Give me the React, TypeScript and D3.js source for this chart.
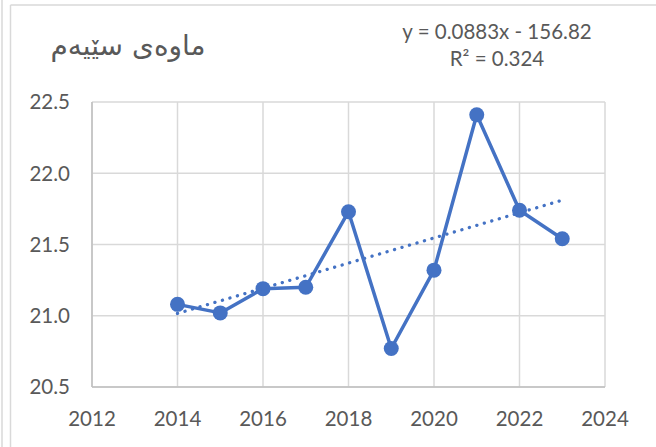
import React from "react";
import * as d3 from "d3";

const years = [2014, 2015, 2016, 2017, 2018, 2019, 2020, 2021, 2022, 2023];
const values = [21.08, 21.02, 21.19, 21.2, 21.73, 20.77, 21.32, 22.41, 21.74, 21.54];
const xTicks = [2012, 2014, 2016, 2018, 2020, 2022, 2024];
const yTicks = [20.5, 21.0, 21.5, 22.0, 22.5];
const slope = 0.0883;
const intercept = -156.82;
const title = "ماوەی سێیەم";
const equation = "y = 0.0883x - 156.82";
const rSquared = "R² = 0.324";

const W = 656;
const H = 447;
const blue = "#4472C4";
const textColor = "#595959";
const font = "Lato, 'DejaVu Sans', sans-serif";

export default function App() {
  const x = d3.scaleLinear().domain([2012, 2024]).range([92, 605]);
  const y = d3.scaleLinear().domain([20.5, 22.5]).range([387, 102]);

  const line = d3
    .line<number>()
    .x((_, i) => x(years[i]))
    .y((d) => y(d));

  const trendYears = [years[0], years[years.length - 1]];
  const trend = d3
    .line<number>()
    .x((d) => x(d))
    .y((d) => y(slope * d + intercept));

  return (
    <svg
      width={W}
      height={H}
      style={{ position: "absolute", left: 0, top: 0, background: "#fff" }}
    >
      {/* chart frame */}
      <line x1={2} y1={0} x2={2} y2={H} stroke="#d9d9d9" strokeWidth={1.5} />
      <line x1={10.5} y1={5} x2={10.5} y2={H} stroke="#d9d9d9" strokeWidth={1.5} />
      <line x1={10.5} y1={5} x2={W} y2={5} stroke="#d9d9d9" strokeWidth={1.5} />

      {/* gridlines */}
      {yTicks.map((t) => (
        <line
          key={"gy" + t}
          x1={x(2012)}
          x2={x(2024)}
          y1={y(t)}
          y2={y(t)}
          stroke="#d9d9d9"
          strokeWidth={1.5}
        />
      ))}
      {xTicks.map((t) => (
        <line
          key={"gx" + t}
          x1={x(t)}
          x2={x(t)}
          y1={y(20.5)}
          y2={y(22.5)}
          stroke="#d9d9d9"
          strokeWidth={1.5}
        />
      ))}
      {/* axes */}
      <line x1={x(2012)} x2={x(2024)} y1={y(20.5)} y2={y(20.5)} stroke="#bfbfbf" strokeWidth={1.5} />
      <line x1={x(2012)} x2={x(2012)} y1={y(20.5)} y2={y(22.5)} stroke="#bfbfbf" strokeWidth={1.5} />

      {/* tick labels */}
      {yTicks.map((t) => (
        <text
          key={"ly" + t}
          x={70}
          y={y(t)}
          dy="0.36em"
          textAnchor="end"
          fontFamily={font}
          fontSize={20.5}
          fill={textColor}
        >
          {d3.format(".1f")(t)}
        </text>
      ))}
      {xTicks.map((t) => (
        <text
          key={"lx" + t}
          x={x(t)}
          y={426}
          textAnchor="middle"
          fontFamily={font}
          fontSize={20.5}
          fill={textColor}
        >
          {t}
        </text>
      ))}

      {/* series */}
      <path d={line(values) ?? ""} fill="none" stroke={blue} strokeWidth={3.5} strokeLinejoin="round" />
      {values.map((v, i) => (
        <circle key={"p" + i} cx={x(years[i])} cy={y(v)} r={7.5} fill={blue} />
      ))}

      {/* trendline */}
      <path
        d={trend(trendYears) ?? ""}
        fill="none"
        stroke={blue}
        strokeWidth={3.3}
        strokeLinecap="round"
        strokeDasharray="0.1 7.7"
      />

      {/* title and equation */}
      <text
        x={128}
        y={55}
        textAnchor="middle"
        fontFamily="'DejaVu Sans', sans-serif"
        fontSize={28}
        fill={textColor}
      >
        {title}
      </text>
      <text x={497} y={39} textAnchor="middle" fontFamily={font} fontSize={20.5} fill={textColor}>
        {equation}
      </text>
      <text x={497} y={66} textAnchor="middle" fontFamily={font} fontSize={20.5} fill={textColor}>
        {rSquared}
      </text>
    </svg>
  );
}
